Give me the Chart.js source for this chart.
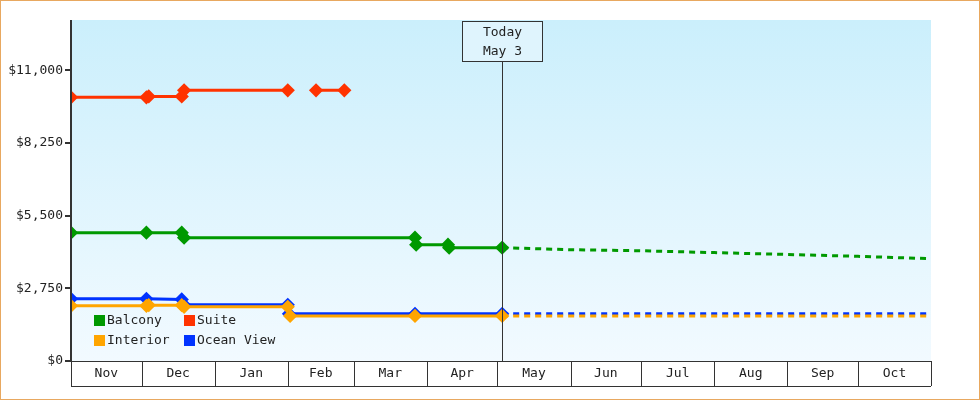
<!DOCTYPE html><html><head><meta charset="utf-8">
<script src="https://cdn.jsdelivr.net/npm/chart.js@4"></script>
<style>html,body{margin:0;padding:0;background:#fff}#w{width:978px;height:398px;border:1px solid #e8a860;position:relative}</style>
</head><body><div id="w"><canvas id="c" width="978" height="398"></canvas></div>
<script>
// x values are days since Nov 1
const months=['Nov','Dec','Jan','Feb','Mar','Apr','May','Jun','Jul','Aug','Sep','Oct'];
const monthStarts=[0,30,61,92,120,151,181,212,242,273,304,334,365];
const yTicks=[0,2750,5500,8250,11000];
const todayDay=183, todayLabel=['Today','May 3'];
const suite=[[0,9975],[32,9975],[33,10010],[47,10010],[48,10240],[92,10240],[98,null],[104,10240],[116,10240]];
const balcony=[[0,4856],[32,4856],[47,4856],[48,4666],[146,4666],[146.5,4400],[160,4400],[160.5,4287],[183,4287]];
const balconyFc=[[183,4287],[212,4210],[242,4170],[273,4100],[304,4030],[334,3960],[365,3870]];
const ocean=[[0,2352],[32,2352],[47,2330],[48,2124],[92,2124],[92.5,1783],[146,1783],[183,1783]];
const oceanFc=[[183,1783],[365,1783]];
const interior=[[0,2086],[32,2086],[33,2110],[47,2110],[48,2048],[92,2048],[93,1707],[146,1707],[183,1707]];
const interiorFc=[[183,1707],[365,1707]];
const pts=a=>a.map(p=>({x:p[0],y:p[1]}));
const ds=(label,d,color,dash)=>({label,data:pts(d),borderColor:color,backgroundColor:color,borderWidth:3,
 pointStyle:'rectRot',pointRadius:dash?0:5,pointHoverRadius:0,borderDash:dash?[6,5]:[],spanGaps:false,tension:0});
const legendItems=[['Balcony','#009900'],['Suite','#ff3300'],['Interior','#ffa500'],['Ocean View','#0033ff']];
const F='"DejaVu Sans Mono", monospace';
const deco={id:'deco',
 beforeDraw(c){const a=c.chartArea,x=c.ctx;const g=x.createLinearGradient(0,a.top,0,a.bottom);
  g.addColorStop(0,'#cbeffc');g.addColorStop(1,'#f2faff');x.fillStyle=g;x.fillRect(a.left,a.top,a.right-a.left,a.bottom-a.top);},
 afterDatasetsDraw(c){const a=c.chartArea,x=c.ctx,sx=c.scales.x;x.save();
  x.strokeStyle='#333';x.lineWidth=1;
  const tx=Math.round(sx.getPixelForValue(todayDay))+0.5;
  x.beginPath();x.moveTo(tx,60);x.lineTo(tx,a.bottom);x.stroke();
  x.fillStyle='#dff4fd';x.fillRect(tx-40,20,80,40);x.strokeRect(tx-40,20.5,80,40);
  x.fillStyle='#222';x.font='13px '+F;x.textAlign='center';x.textBaseline='middle';
  x.fillText(todayLabel[0],tx,32);x.fillText(todayLabel[1],tx,51);
  // x axis boxes
  x.beginPath();x.moveTo(a.left,385.5);x.lineTo(a.right,385.5);x.moveTo(a.left,a.bottom+0.5);x.lineTo(a.right,a.bottom+0.5);
  monthStarts.forEach(d=>{const p=Math.round(sx.getPixelForValue(d))+0.5;x.moveTo(p,a.bottom);x.lineTo(p,385);});x.stroke();
  months.forEach((m,i)=>x.fillText(m,(sx.getPixelForValue(monthStarts[i])+sx.getPixelForValue(monthStarts[i+1]))/2,373));
  // y axis line
  x.lineWidth=2;x.beginPath();x.moveTo(a.left,a.top);x.lineTo(a.left,a.bottom+1);x.stroke();
  // legend
  x.textAlign='left';x.font='13px '+F;
  legendItems.forEach((l,i)=>{const lx=93+(i%2)*90,ly=314+Math.floor(i/2)*20;x.fillStyle=l[1];x.fillRect(lx,ly,11,11);
   x.fillStyle='#222';x.fillText(l[0],lx+13,ly+6);});
  x.restore();}};
new Chart(document.getElementById('c'),{type:'line',
 data:{datasets:[ds('Suite',suite,'#ff3300'),ds('Balcony',balcony,'#009900'),ds('Balcony forecast',balconyFc,'#009900',1),
  ds('Interior',interior,'#ffa500'),ds('Interior forecast',interiorFc,'#ffa500',1),
  ds('Ocean View',ocean,'#0033ff'),ds('Ocean View forecast',oceanFc,'#0033ff',1)]},
 options:{responsive:false,animation:false,layout:{padding:{top:19,right:48,bottom:38,left:0}},
  plugins:{legend:{display:false},tooltip:{enabled:false}},
  scales:{x:{type:'linear',min:0,max:365,display:false},
   y:{min:0,max:12900,afterFit(s){s.width=70;},afterBuildTicks(s){s.ticks=yTicks.map(v=>({value:v}));},
    grid:{display:true,drawOnChartArea:false,color:'#333',tickLength:6,lineWidth:2},border:{display:false},
    ticks:{color:'#222',font:{family:F,size:13},padding:2,callback:v=>'$'+v.toLocaleString('en-US')}}}},
 plugins:[deco]});
</script></body></html>
